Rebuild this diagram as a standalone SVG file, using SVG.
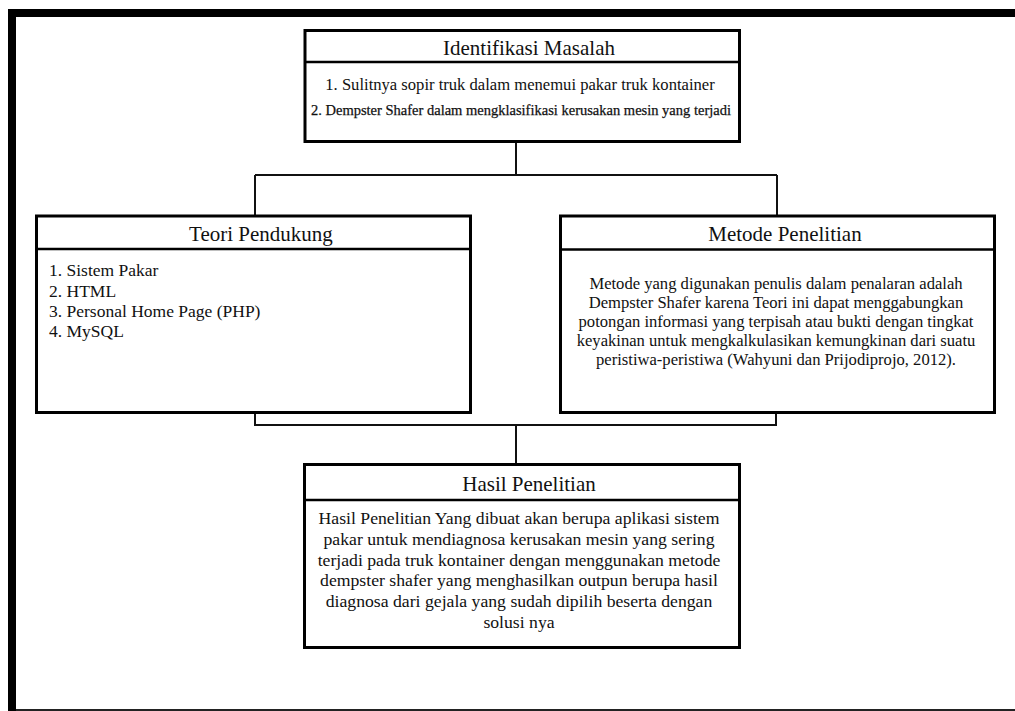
<svg xmlns="http://www.w3.org/2000/svg" width="1015" height="711" viewBox="0 0 1015 711">
<style>
.box{fill:#fff;stroke:#000;stroke-width:3}
.div{stroke:#000;stroke-width:2.5}
.conn{fill:none;stroke:#111;stroke-width:2}
text{font-family:"Liberation Serif","Times New Roman",serif;fill:#111}
.t{font-size:21px;text-anchor:middle}
.c{text-anchor:middle}
.l{font-size:17.5px}
.m{font-size:16.6px}
.h{font-size:17.7px}
</style>
<rect width="1015" height="711" fill="#fff"/>
<g id="frame">
<rect x="8" y="9" width="1007" height="8" fill="#000"/>
<rect x="8" y="9" width="8" height="702" fill="#000"/>
<rect x="16" y="709" width="999" height="2" fill="#222"/>
</g>
<g id="connectors">
<path class="conn" d="M516 142 V175 M255 175 H777 M255 175 V216 M777 175 V216"/>
<path class="conn" d="M255 413 V425 H776 V413 M516 425 V464"/>
</g>
<g id="identifikasi">
<rect class="box" x="305" y="30.5" width="434.5" height="111"/>
<line class="div" x1="305" y1="62" x2="739.5" y2="62"/>
<text class="t" x="529" y="55">Identifikasi Masalah</text>
<text class="c" x="520" y="90" font-size="16.6">1. Sulitnya sopir truk dalam menemui pakar truk kontainer</text>
<text class="c" x="521" y="115" font-size="14.5" stroke="#111" stroke-width="0.25">2. Dempster Shafer dalam mengklasifikasi kerusakan mesin yang terjadi</text>
</g>
<g id="teori">
<rect class="box" x="36.5" y="216" width="434" height="196.5"/>
<line class="div" x1="36.5" y1="249" x2="470.5" y2="249"/>
<text class="t" x="261" y="241">Teori Pendukung</text>
<text class="l" x="49" y="276">1. Sistem Pakar</text>
<text class="l" x="49" y="297">2. HTML</text>
<text class="l" x="49" y="317">3. Personal Home Page (PHP)</text>
<text class="l" x="49" y="337">4. MySQL</text>
</g>
<g id="metode">
<rect class="box" x="560.5" y="216" width="434" height="196.5"/>
<line class="div" x1="560.5" y1="249.5" x2="994.5" y2="249.5"/>
<text class="t" x="785" y="241">Metode Penelitian</text>
<text class="m c" x="776" y="289">Metode yang digunakan penulis dalam penalaran adalah</text>
<text class="m c" x="776" y="308">Dempster Shafer karena Teori ini dapat menggabungkan</text>
<text class="m c" x="776" y="327">potongan informasi yang terpisah atau bukti dengan tingkat</text>
<text class="m c" x="776" y="346">keyakinan untuk mengkalkulasikan kemungkinan dari suatu</text>
<text class="m c" x="776" y="364.5">peristiwa-peristiwa (Wahyuni dan Prijodiprojo, 2012).</text>
</g>
<g id="hasil">
<rect class="box" x="304.5" y="464.5" width="435" height="183"/>
<line class="div" x1="304.5" y1="500" x2="739.5" y2="500"/>
<text class="t" x="529" y="491">Hasil Penelitian</text>
<text class="h c" x="519" y="524">Hasil Penelitian Yang dibuat akan berupa aplikasi sistem</text>
<text class="h c" x="519" y="545">pakar untuk mendiagnosa kerusakan mesin yang sering</text>
<text class="h c" x="519" y="565.5">terjadi pada truk kontainer dengan menggunakan metode</text>
<text class="h c" x="519" y="586">dempster shafer yang menghasilkan outpun berupa hasil</text>
<text class="h c" x="519" y="607">diagnosa dari gejala yang sudah dipilih beserta dengan</text>
<text class="h c" x="519" y="627.5">solusi nya</text>
</g>
</svg>
